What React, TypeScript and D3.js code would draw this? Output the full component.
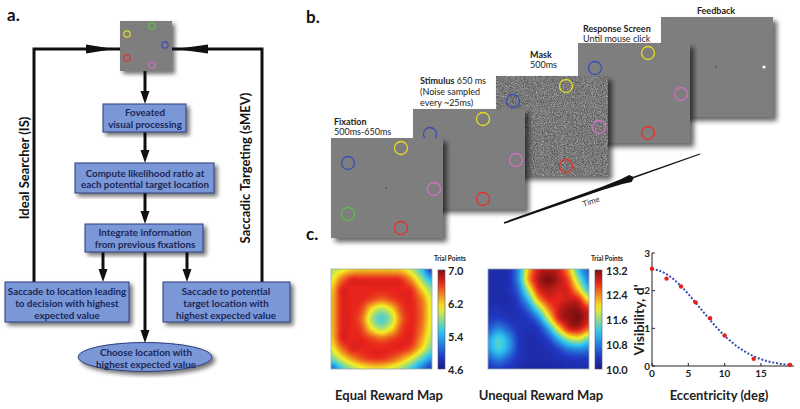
import React, { useMemo } from "react";
import * as d3 from "d3";

// ---------- DATA ----------
const eccentricity = [0, 2, 4, 6, 8, 10, 14, 19];
const visibility = [2.58, 2.32, 2.11, 1.69, 1.27, 0.81, 0.19, 0.03];
const fitEccentricity = [0, 1, 2, 3, 4, 5, 6, 7, 8, 9, 10, 11, 12, 13, 14, 15, 16, 17, 18, 19];
const fitVisibility = [2.58, 2.53, 2.44, 2.3, 2.12, 1.91, 1.68, 1.45, 1.22, 1.0, 0.8, 0.63, 0.48, 0.36, 0.26, 0.18, 0.12, 0.08, 0.05, 0.03];
const xTicks = [0, 5, 10, 15];
const yTicks = [0, 1, 2, 3];

const equalTicks = [4.6, 5.4, 6.2, 7.0];
const unequalTicks = [10.0, 10.8, 11.6, 12.4, 13.2];

const equalMap = [
  [5.9, 6.05, 6.2, 6.25, 6.25, 6.25, 6.25, 6.2, 5.95, 5.5, 4.9],
  [6.05, 6.45, 6.7, 6.7, 6.7, 6.7, 6.7, 6.65, 6.35, 5.85, 5.4],
  [6.2, 6.7, 6.7, 6.7, 6.7, 6.7, 6.7, 6.7, 6.65, 6.2, 5.8],
  [6.25, 6.7, 6.7, 6.7, 6.6, 6.5, 6.6, 6.7, 6.7, 6.45, 6.0],
  [6.25, 6.7, 6.7, 6.6, 6.15, 5.9, 6.15, 6.6, 6.7, 6.5, 6.05],
  [6.25, 6.7, 6.7, 6.5, 5.9, 5.6, 5.9, 6.5, 6.7, 6.5, 6.05],
  [6.25, 6.7, 6.7, 6.6, 6.15, 5.9, 6.15, 6.6, 6.7, 6.45, 6.0],
  [6.2, 6.7, 6.7, 6.7, 6.6, 6.5, 6.6, 6.7, 6.7, 6.35, 5.9],
  [6.05, 6.45, 6.7, 6.7, 6.7, 6.7, 6.7, 6.7, 6.55, 6.15, 5.7],
  [5.7, 6.05, 6.35, 6.55, 6.65, 6.65, 6.55, 6.35, 6.05, 5.65, 5.3],
  [5.1, 5.55, 5.85, 6.05, 6.15, 6.15, 6.05, 5.85, 5.55, 5.2, 4.9],
];

const unequalMap = [
  [10.25, 10.25, 10.3, 10.9, 12.2, 12.9, 13.0, 12.9, 12.3, 11.2, 10.6],
  [10.25, 10.25, 10.3, 10.9, 12.3, 13.0, 13.2, 13.0, 12.6, 11.6, 10.8],
  [10.25, 10.25, 10.3, 10.7, 11.8, 12.8, 13.0, 12.9, 12.8, 12.1, 11.2],
  [10.25, 10.25, 10.25, 10.5, 11.2, 12.3, 12.8, 12.8, 12.9, 12.8, 12.0],
  [10.3, 10.3, 10.25, 10.35, 10.7, 11.5, 12.4, 12.9, 13.1, 13.1, 12.8],
  [10.4, 10.45, 10.35, 10.3, 10.4, 10.8, 11.8, 12.8, 13.1, 13.2, 12.9],
  [10.6, 10.85, 10.6, 10.35, 10.3, 10.4, 11.0, 12.0, 12.8, 12.9, 12.5],
  [10.95, 11.3, 10.95, 10.4, 10.25, 10.3, 10.5, 11.1, 11.7, 11.9, 11.5],
  [10.95, 11.3, 10.95, 10.4, 10.25, 10.25, 10.3, 10.5, 10.8, 10.9, 10.8],
  [10.6, 10.85, 10.6, 10.35, 10.25, 10.25, 10.25, 10.3, 10.35, 10.4, 10.4],
  [10.35, 10.45, 10.35, 10.25, 10.2, 10.2, 10.2, 10.2, 10.25, 10.25, 10.25],
];

const flowBoxes = [
  { lines: ["Foveated", "visual processing"] },
  { lines: ["Compute likelihood ratio at", "each potential target location"] },
  { lines: ["Integrate information", "from previous fixations"] },
  { lines: ["Saccade to location leading", "to decision with highest", "expected value"] },
  { lines: ["Saccade to potential", "target location with", "highest expected value"] },
];
const ellipseLines = ["Choose location with", "highest expected value"];

const frameNames = ["Feedback", "Response Screen", "Mask", "Stimulus", "Fixation"];

// ---------- helpers ----------
const jet = d3
  .scaleLinear<string>()
  .domain([0, 0.125, 0.375, 0.625, 0.875, 1])
  .range(["#1a1a84", "#2038c4", "#2ec8f2", "#f6ee22", "#e8241c", "#801010"])
  .interpolate(d3.interpolateRgb)
  .clamp(true);

function cr(p0: number, p1: number, p2: number, p3: number, t: number) {
  return 0.5 * (2 * p1 + (-p0 + p2) * t + (2 * p0 - 5 * p1 + 4 * p2 - p3) * t * t + (-p0 + 3 * p1 - 3 * p2 + p3) * t * t * t);
}

function heatURL(grid: number[][], lo: number, hi: number, w: number, h: number) {
  if (typeof document === "undefined") return "";
  const c = document.createElement("canvas");
  c.width = w;
  c.height = h;
  const ctx = c.getContext("2d");
  if (!ctx) return "";
  const img = ctx.createImageData(w, h);
  const n = grid.length - 1;
  const m = grid[0].length - 1;
  const at = (r: number, k: number) => grid[Math.max(0, Math.min(n, r))][Math.max(0, Math.min(m, k))];
  for (let y = 0; y < h; y++) {
    const gy = (y / (h - 1)) * n;
    const iy = Math.min(n - 1, Math.floor(gy));
    const ty = gy - iy;
    for (let x = 0; x < w; x++) {
      const gx = (x / (w - 1)) * m;
      const ix = Math.min(m - 1, Math.floor(gx));
      const tx = gx - ix;
      const rows = [-1, 0, 1, 2].map((k) => cr(at(iy + k, ix - 1), at(iy + k, ix), at(iy + k, ix + 1), at(iy + k, ix + 2), tx));
      const v = cr(rows[0], rows[1], rows[2], rows[3], ty);
      const col = d3.rgb(jet((v - lo) / (hi - lo)));
      const i = (y * w + x) * 4;
      img.data[i] = col.r;
      img.data[i + 1] = col.g;
      img.data[i + 2] = col.b;
      img.data[i + 3] = 255;
    }
  }
  ctx.putImageData(img, 0, 0);
  return c.toDataURL();
}

function arrowHead(tx: number, ty: number, dx: number, dy: number, len = 13, hw = 4.5) {
  const L = Math.hypot(dx, dy);
  const ux = dx / L, uy = dy / L;
  const nx = -uy, ny = ux;
  const bx = tx - ux * len, by = ty - uy * len;
  return `${tx},${ty} ${bx + nx * hw},${by + ny * hw} ${bx - nx * hw},${by - ny * hw}`;
}

const FONT = "Lato, 'Open Sans', sans-serif";
const BOX_FILL = "#7a97d8";
const BOX_STROKE = "#2e3f78";
const BOX_TEXT = "#1b2856";

const CIRCLE = { blue: "#3a4cb8", yellow: "#e4dc22", pink: "#d070c0", green: "#5cc040", red: "#e8302c" };

export default function App() {
  const url1 = useMemo(() => heatURL(equalMap, 4.6, 7.0, 101, 100), []);
  const url2 = useMemo(() => heatURL(unequalMap, 10.0, 13.2, 101, 100), []);

  // ---- panel a geometry ----
  const boxes = [
    { x: 103, y: 104, w: 83, h: 28, base: 115.5, lh: 12.5 },
    { x: 75, y: 163, w: 139, h: 30, base: 176.5, lh: 11.5 },
    { x: 85, y: 224, w: 118, h: 28, base: 235.5, lh: 12 },
    { x: 5, y: 282, w: 124, h: 40, base: 294.5, lh: 12 },
    { x: 163, y: 282, w: 127, h: 40, base: 294.5, lh: 12 },
  ];
  const boxCenters = [145, 145, 145, 67, 226];

  // ---- panel b geometry ----
  const FW = 112, FH = 100;
  const frames = [
    { name: frameNames[0], x: 661, y: 17 },
    { name: frameNames[1], x: 578, y: 43 },
    { name: frameNames[2], x: 496, y: 76 },
    { name: frameNames[3], x: 413, y: 109 },
    { name: frameNames[4], x: 331, y: 138 },
  ];
  const circ = [
    { c: CIRCLE.blue, x: 17, y: 25 },
    { c: CIRCLE.yellow, x: 70, y: 10 },
    { c: CIRCLE.pink, x: 103, y: 51 },
    { c: CIRCLE.green, x: 17, y: 76 },
    { c: CIRCLE.red, x: 70, y: 90 },
  ];

  // time arrow
  const t0 = [504, 223], t1 = [700, 154];
  const tdx = t1[0] - t0[0], tdy = t1[1] - t0[1];
  const tL = Math.hypot(tdx, tdy);
  const tu = [tdx / tL, tdy / tL], tn = [-tu[1], tu[0]];
  const widthAt: [number, number][] = [[0, 0.9], [0.5, 1.6], [0.6, 2.6], [0.645, 3.6], [0.66, 0.8], [1, 0.5]];
  const pt = (t: number, s: number) => [t0[0] + tdx * t + tn[0] * s, t0[1] + tdy * t + tn[1] * s];
  const timePoly = [
    ...widthAt.map(([t, w]) => pt(t, w)),
    ...widthAt.slice().reverse().map(([t, w]) => pt(t, -w)),
  ].map((p) => p.join(",")).join(" ");
  const timeAngle = (Math.atan2(tdy, tdx) * 180) / Math.PI;

  // ---- panel c geometry ----
  const xs = d3.scaleLinear().domain([0, 19]).range([652, 790]);
  const ys = d3.scaleLinear().domain([0, 3]).range([366, 253]);
  const fitLine = d3
    .line<number>()
    .x((_, i) => xs(fitEccentricity[i]))
    .y((d) => ys(d))
    .curve(d3.curveCatmullRom);

  const cb1 = d3.scaleLinear().domain([4.6, 7.0]).range([369, 270]);
  const cb2 = d3.scaleLinear().domain([10.0, 13.2]).range([369, 270]);
  const gradStops = d3.range(0, 1.0001, 0.05);

  return (
    <svg width={800} height={409} style={{ position: "absolute", left: 0, top: 0, background: "#fff" }} fontFamily={FONT}>
      <defs>
        <filter id="shadow" x="-10%" y="-10%" width="130%" height="130%">
          <feDropShadow dx="3" dy="3" stdDeviation="2" floodColor="#000" floodOpacity="0.55" />
        </filter>
        <filter id="fshadow" x="-10%" y="-10%" width="130%" height="130%">
          <feDropShadow dx="4" dy="4" stdDeviation="2.5" floodColor="#000" floodOpacity="0.6" />
        </filter>
        <filter id="noise" x="0" y="0" width="1" height="1" filterUnits="objectBoundingBox" colorInterpolationFilters="sRGB">
          <feTurbulence type="fractalNoise" baseFrequency="1.1" numOctaves="2" seed="4" result="t" />
          <feColorMatrix in="t" type="matrix" values="0.55 0 0 0 0.2  0.55 0 0 0 0.2  0.55 0 0 0 0.2  0 0 0 0 1" />
        </filter>
        <linearGradient id="jetgrad" x1="0" y1="1" x2="0" y2="0">
          {gradStops.map((t) => (
            <stop key={t} offset={t} stopColor={jet(t)} />
          ))}
        </linearGradient>
      </defs>

      {/* ================= Panel a ================= */}
      <text x={7} y={21} fontSize={17} fontWeight={700} fill="#111">a.</text>

      {/* top image */}
      <g filter="url(#shadow)">
        <rect x={120} y={21} width={52} height={50} fill="#7e7e7e" />
      </g>
      {[
        { c: CIRCLE.yellow, x: 127, y: 34 },
        { c: CIRCLE.green, x: 152, y: 26 },
        { c: CIRCLE.blue, x: 165, y: 45 },
        { c: CIRCLE.red, x: 127, y: 58 },
        { c: CIRCLE.pink, x: 152, y: 65 },
      ].map((d, i) => (
        <circle key={i} cx={d.x} cy={d.y} r={3.2} fill="none" stroke={d.c} strokeWidth={1.2} />
      ))}

      {/* loop lines */}
      <g stroke="#111" strokeWidth={3} fill="none">
        <polyline points="34,282 34,49 120,49" />
        <polyline points="262,282 262,49 172,49" />
        <line x1={145} y1={71} x2={145} y2={94} />
        <line x1={145} y1={132} x2={145} y2={153} />
        <line x1={145} y1={193} x2={145} y2={214} />
        <line x1={103} y1={252} x2={103} y2={272} />
        <line x1={187} y1={252} x2={187} y2={272} />
        <line x1={145} y1={252} x2={145} y2={333} />
      </g>
      <g fill="#111">
        <polygon points={arrowHead(114, 49, 1, 0, 28, 4.5)} />
        <polygon points={arrowHead(176, 49, -1, 0, 32, 4.5)} />
        <polygon points={arrowHead(145, 104, 0, 1)} />
        <polygon points={arrowHead(145, 163, 0, 1)} />
        <polygon points={arrowHead(145, 224, 0, 1)} />
        <polygon points={arrowHead(103, 282, 0, 1)} />
        <polygon points={arrowHead(187, 282, 0, 1)} />
        <polygon points={arrowHead(145, 343, 0, 1)} />
      </g>

      {/* boxes */}
      {boxes.map((b, i) => (
        <g key={i}>
          <rect x={b.x} y={b.y} width={b.w} height={b.h} fill={BOX_FILL} stroke={BOX_STROKE} strokeWidth={1} filter="url(#shadow)" />
          <g>
            <clipPath id={`clip${i}`}>
              <rect x={b.x} y={b.y} width={b.w} height={b.h} />
            </clipPath>
            <g clipPath={`url(#clip${i})`}>
              {flowBoxes[i].lines.map((l, j) => (
                <text key={j} x={boxCenters[i]} y={b.base + j * b.lh} textAnchor="middle" fontSize={9.8} fontWeight={700} fill={BOX_TEXT}>
                  {l}
                </text>
              ))}
            </g>
          </g>
        </g>
      ))}
      <ellipse cx={145} cy={357} rx={67} ry={14.5} fill={BOX_FILL} stroke={BOX_STROKE} strokeWidth={1} filter="url(#shadow)" />
      {ellipseLines.map((l, j) => (
        <text key={j} x={146} y={355.5 + j * 12} textAnchor="middle" fontSize={9.8} fontWeight={700} fill={BOX_TEXT}>
          {l}
        </text>
      ))}

      <text transform="translate(29,168) rotate(-90)" textAnchor="middle" fontSize={13} fontWeight={700} fill="#111">
        Ideal Searcher (IS)
      </text>
      <text transform="translate(250,168) rotate(-90)" textAnchor="middle" fontSize={13} fontWeight={700} fill="#111">
        Saccadic Targeting (sMEV)
      </text>

      {/* ================= Panel b ================= */}
      <text x={306} y={23} fontSize={17} fontWeight={700} fill="#111">b.</text>

      {frames.map((f, fi) => (
        <g key={fi}>
          <g filter="url(#fshadow)">
            <rect x={f.x} y={f.y} width={FW} height={FH} fill="#7e7e7e" />
          </g>
          {f.name === "Mask" && <rect x={f.x} y={f.y} width={FW} height={FH} filter="url(#noise)" />}
          {f.name !== "Feedback" &&
            circ.map((c, ci) => (
              <circle key={ci} cx={f.x + c.x} cy={f.y + c.y} r={6.5} fill="none" stroke={c.c} strokeWidth={1.3} />
            ))}
          {(f.name === "Fixation" || f.name === "Feedback") && (
            <circle cx={f.x + 55} cy={f.y + 50} r={0.9} fill="#555" />
          )}
          {f.name === "Feedback" && <circle cx={f.x + 103} cy={f.y + 50} r={1.6} fill="#fff" />}
        </g>
      ))}

      <g fontSize={9} fill="#222">
        <text x={334} y={125} fontWeight={700}>Fixation</text>
        <text x={334} y={135}>500ms-650ms</text>
        <text x={420} y={84}>
          <tspan fontWeight={700}>Stimulus</tspan> 650 ms
        </text>
        <text x={420} y={95}>(Noise sampled</text>
        <text x={420} y={106}>every ~25ms)</text>
        <text x={530} y={58} fontWeight={700}>Mask</text>
        <text x={530} y={68}>500ms</text>
        <text x={583} y={32} fontWeight={700}>Response Screen</text>
        <text x={583} y={42}>Until mouse click</text>
        <text x={716} y={14} fontWeight={700} textAnchor="middle">Feedback</text>
      </g>

      <polygon points={timePoly} fill="#111" />
      <text transform={`translate(592,204) rotate(${timeAngle})`} fontSize={8} textAnchor="middle" fill="#333">
        Time
      </text>

      {/* ================= Panel c ================= */}
      <text x={306} y={240} fontSize={17} fontWeight={700} fill="#111">c.</text>

      {/* heatmap 1 */}
      {url1 && <image href={url1} x={331} y={269} width={101} height={100} preserveAspectRatio="none" />}
      <rect x={331} y={269} width={101} height={100} fill="none" stroke="#9aa" strokeWidth={0.8} />
      <rect x={438} y={270} width={7} height={99} fill="url(#jetgrad)" stroke="#557" strokeWidth={0.6} />
      <text x={450} y={261} fontSize={6.5} fontWeight={700} textAnchor="middle" fill="#222">Trial Points</text>
      {equalTicks.map((t) => (
        <text key={t} x={448} y={cb1(t) + 4.5} fontSize={11} fontWeight={700} fill="#222">
          {t.toFixed(1)}
        </text>
      ))}

      {/* heatmap 2 */}
      {url2 && <image href={url2} x={488} y={269} width={101} height={100} preserveAspectRatio="none" />}
      <rect x={488} y={269} width={101} height={100} fill="none" stroke="#9aa" strokeWidth={0.8} />
      <rect x={595} y={270} width={7} height={99} fill="url(#jetgrad)" stroke="#557" strokeWidth={0.6} />
      <text x={607} y={261} fontSize={6.5} fontWeight={700} textAnchor="middle" fill="#222">Trial Points</text>
      {unequalTicks.map((t) => (
        <text key={t} x={606} y={cb2(t) + 4.5} fontSize={11} fontWeight={700} fill="#222">
          {t.toFixed(1)}
        </text>
      ))}

      <text x={389} y={400} fontSize={13} fontWeight={700} textAnchor="middle" fill="#222">Equal Reward Map</text>
      <text x={541} y={400} fontSize={13} fontWeight={700} textAnchor="middle" fill="#222">Unequal Reward Map</text>

      {/* line chart */}
      <g stroke="#222" strokeWidth={1}>
        <line x1={xs(0)} y1={ys(0)} x2={xs(0)} y2={ys(3)} />
        <line x1={xs(0)} y1={ys(0)} x2={794} y2={ys(0)} />
        {yTicks.map((t) => (
          <line key={t} x1={xs(0)} x2={xs(0) + 3} y1={ys(t)} y2={ys(t)} />
        ))}
        {xTicks.map((t) => (
          <line key={t} x1={xs(t)} x2={xs(t)} y1={ys(0)} y2={ys(0) - 3} />
        ))}
      </g>
      {yTicks.map((t) => (
        <text key={t} x={xs(0) - 2} y={ys(t) + 3.5} fontSize={10} fontWeight={700} textAnchor="end" fill="#222">
          {t}
        </text>
      ))}
      {xTicks.map((t) => (
        <text key={t} x={xs(t)} y={377} fontSize={10} fontWeight={700} textAnchor="middle" fill="#222">
          {t}
        </text>
      ))}
      <path d={fitLine(fitVisibility) || ""} fill="none" stroke="#3050b0" strokeWidth={2} strokeDasharray="2 1.8" />
      {eccentricity.map((e, i) => (
        <circle key={i} cx={xs(e)} cy={ys(visibility[i])} r={2.2} fill="#e8201c" />
      ))}
      <text transform="translate(644,320) rotate(-90)" fontSize={14} fontWeight={700} textAnchor="middle" fill="#222">
        Visibility, d'
      </text>
      <text x={719} y={400} fontSize={13} fontWeight={700} textAnchor="middle" fill="#222">Eccentricity (deg)</text>
    </svg>
  );
}
